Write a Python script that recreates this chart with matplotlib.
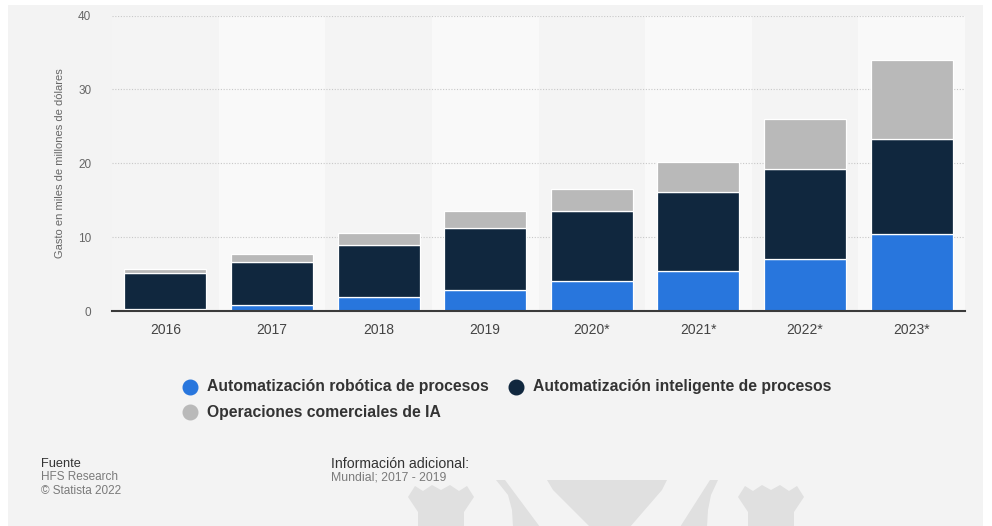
import matplotlib
matplotlib.use("Agg")
import matplotlib.pyplot as plt
from matplotlib.patches import Polygon, Rectangle
from matplotlib.lines import Line2D

plt.rcParams['font.family'] = ['Liberation Sans', 'DejaVu Sans']

# Data (miles de millones de dólares)
years = ["2016", "2017", "2018", "2019", "2020*", "2021*", "2022*", "2023*"]
rpa = [0.3, 0.85, 1.9, 2.9, 4.0, 5.4, 7.1, 10.4]
iap = [4.8, 5.75, 7.1, 8.3, 9.5, 10.75, 12.1, 12.9]
ia_ops = [0.6, 1.1, 1.5, 2.3, 3.05, 4.05, 6.75, 10.7]
series_names = ["Automatización robótica de procesos",
                "Automatización inteligente de procesos",
                "Operaciones comerciales de IA"]
colors = ["#2876dd", "#10273e", "#b9b9b9"]
yticks = [0, 10, 20, 30, 40]

W, H = 992, 526
fig = plt.figure(figsize=(W / 100, H / 100), dpi=100)
fig.patch.set_facecolor("white")
BG = "#f3f3f3"


def px(points):
    """Pixel coordinates (origin top-left) -> figure fraction."""
    return [(x / W, 1 - y / H) for x, y in points]


def fig_poly(points, color, z):
    fig.patches.append(Polygon(px(points), closed=True, transform=fig.transFigure,
                               facecolor=color, edgecolor="none", zorder=z))


# light panel behind everything
fig.patches.append(Rectangle((8 / W, 0), (983 - 8) / W, 1 - 5 / H,
                             transform=fig.transFigure, facecolor=BG,
                             edgecolor="none", zorder=-10))

# faint logo at the bottom edge
wm = "#e0e0e0"
fig_poly([(496, 480), (718, 480), (711, 495), (708, 510), (707, 527),
          (513, 527), (512, 510), (508, 495)], wm, -9)
fig_poly([(505, 480), (547, 480), (553, 490), (590, 527), (540, 527)], BG, -8)
fig_poly([(667, 480), (710, 480), (680, 527), (630, 527), (662, 490)], BG, -8)
for cx in (441, 771):
    pts = [(cx - 33, 497), (cx - 26, 486), (cx - 18, 491), (cx - 9, 485),
           (cx, 490), (cx + 9, 485), (cx + 18, 491), (cx + 26, 486),
           (cx + 33, 497), (cx + 23, 512), (cx + 23, 527), (cx - 23, 527),
           (cx - 23, 512)]
    fig_poly(pts, wm, -9)

ax = fig.add_axes([112 / W, 1 - 311 / H, (965 - 112) / W, (311 - 15.5) / H])
ax.set_facecolor("none")

x = list(range(len(years)))
# alternating column bands
for i in x:
    ax.axvspan(i - 0.5, i + 0.5, color="#f4f4f4" if i % 2 == 0 else "#f9f9f9",
               zorder=0, lw=0)

bottom = [0.0] * len(years)
for vals, col, name in zip([rpa, iap, ia_ops], colors, series_names):
    ax.bar(x, vals, width=0.77, bottom=bottom, color=col, edgecolor="white",
           linewidth=0.9, zorder=3, label=name)
    bottom = [b + v for b, v in zip(bottom, vals)]

ax.set_xlim(-0.5, len(years) - 0.5)
ax.set_ylim(0, 40)
ax.set_yticks(yticks)
ax.set_xticks(x)
ax.set_xticklabels(years)
ax.yaxis.grid(True, linestyle=(0, (1, 1.5)), color="#c8c8c8", linewidth=0.8, zorder=1)
ax.set_axisbelow(True)
for s in ("left", "right", "top"):
    ax.spines[s].set_visible(False)
ax.spines["bottom"].set_color("#3a3a3a")
ax.spines["bottom"].set_linewidth(1.5)
ax.spines["bottom"].set_zorder(5)
ax.tick_params(axis="both", length=0)
ax.tick_params(axis="y", labelsize=8.5, labelcolor="#666666", pad=15)
ax.tick_params(axis="x", labelsize=10, labelcolor="#444444", pad=9)
ax.set_ylabel("Gasto en miles de millones de dólares", fontsize=8, color="#666666",
              labelpad=9)

# legend, laid out row by row
legend_slots = [(190, 387), (516, 387), (190, 412)]
for (lx, ly), name, col in zip(legend_slots, series_names, colors):
    fig.add_artist(Line2D([lx / W], [1 - ly / H], marker="o", markersize=10.5,
                          markerfacecolor=col, markeredgecolor=col,
                          linestyle="none", transform=fig.transFigure))
    fig.text((lx + 17) / W, 1 - ly / H, name, fontsize=11.3, fontweight="bold",
             color="#333333", va="center", ha="left")

# footer
fig.text(41 / W, 1 - 464 / H, "Fuente", fontsize=9.2, color="#333333", va="center")
fig.text(41 / W, 1 - 477.5 / H, "HFS Research", fontsize=8.5, color="#7a7a7a",
         va="center")
fig.text(41 / W, 1 - 491 / H, "© Statista 2022", fontsize=8.5, color="#7a7a7a",
         va="center")
fig.text(331 / W, 1 - 464 / H, "Información adicional:", fontsize=10.2,
         color="#333333", va="center")
fig.text(331 / W, 1 - 477.5 / H, "Mundial; 2017 - 2019", fontsize=8.8,
         color="#7a7a7a", va="center")

fig.savefig("out.png", dpi=100, facecolor=fig.get_facecolor())
